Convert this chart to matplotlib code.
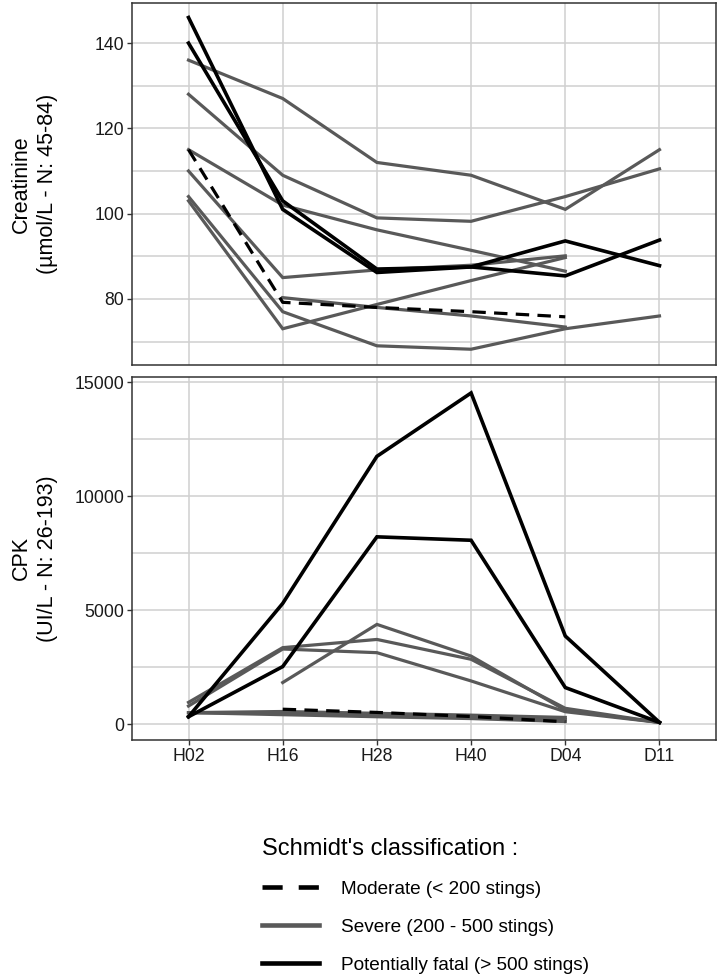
import numpy as np
import matplotlib
matplotlib.use("Agg")
import matplotlib.pyplot as plt
from matplotlib.lines import Line2D

plt.rcParams['font.family'] = ['Liberation Sans', 'DejaVu Sans']

nan = np.nan

# sampling times
times = ["H02", "H16", "H28", "H40", "D04", "D11"]

# Creatinine (umol/L), one list per patient
creat_moderate = [115, 79.2, 78, 77, 75.8, nan]
creat_severe = [
    [136, 127, 112, 109, 101, 115],
    [128, 109, 99, 98.2, 104, 110.5],
    [115, 102, 96.2, 91.4, 86.5, nan],
    [110, 85, 86.8, 87.9, 90.1, nan],
    [104, 77, 69, 68.2, 73, 76],
    [103, 73, 78.7, 84.3, 89.7, nan],
    [nan, 80.3, 78, 76, 73.4, nan],
]
creat_fatal = [
    [146, 101, 86.2, 87.5, 93.6, 87.8],
    [140, 103, 87, 87.5, 85.4, 93.8],
]

# CPK (UI/L)
cpk_moderate = [nan, 660, 520, 340, 110, nan]
cpk_severe = [
    [960, 3360, 3720, 2850, 700, 80],
    [800, 3300, 3140, 1900, 550, 80],
    [nan, 1830, 4380, 2990, 620, 80],
    [510, 560, 480, 400, 300, nan],
    [510, 480, 400, 320, 200, nan],
    [510, 420, 330, 250, 120, nan],
]
cpk_fatal = [
    [330, 5300, 11750, 14530, 3870, 80],
    [330, 2530, 8220, 8070, 1610, 80],
]

legend_title = "Schmidt's classification :"
legend_labels = ["Moderate (< 200 stings)", "Severe (200 - 500 stings)",
                 "Potentially fatal (> 500 stings)"]

GRAY = '#595959'
GRID = '#d0d0d0'
LW = 2.3
DASH = (4.2, 2.6)

fig = plt.figure(figsize=(7.19, 9.74), dpi=100)
ax1 = fig.add_axes([132 / 719, 1 - 365 / 974, 584 / 719, 362 / 974])
ax2 = fig.add_axes([132 / 719, 1 - 740 / 974, 584 / 719, 363 / 974])

x = np.arange(1, len(times) + 1)


def draw(ax, moderate, severe, fatal):
    for s in severe:
        ax.plot(x, s, color=GRAY, lw=LW, solid_joinstyle='miter', zorder=3)
    ax.plot(x, moderate, color='black', lw=LW, dashes=DASH, zorder=4)
    for s in fatal:
        ax.plot(x, s, color='black', lw=LW + 0.3, solid_joinstyle='miter', zorder=5)


draw(ax1, creat_moderate, creat_severe, creat_fatal)
draw(ax2, cpk_moderate, cpk_severe, cpk_fatal)

for ax in (ax1, ax2):
    ax.set_xlim(0.4, 6.6)
    ax.set_xticks(x)
    ax.grid(True, which='both', color=GRID, lw=1.1, zorder=0)
    ax.set_axisbelow(True)
    for sp in ax.spines.values():
        sp.set_color('#333333')
        sp.set_linewidth(1.1)
    ax.tick_params(which='major', length=3.5, width=1.0, color='#333333',
                   labelsize=12.7, labelcolor='#1a1a1a', pad=2)
    ax.tick_params(which='minor', length=0)

ax1.set_ylim(64.5, 149.4)
ax1.set_yticks([80, 100, 120, 140])
ax1.set_yticks([70, 90, 110, 130], minor=True)
ax1.tick_params(axis='x', which='both', length=0, labelbottom=False)

ax2.set_ylim(-690, 15230)
ax2.set_yticks([0, 5000, 10000, 15000])
ax2.set_yticks([2500, 7500, 12500], minor=True)
ax2.set_xticklabels(times)

ax1.set_ylabel("Creatinine\n(µmol/L - N: 45-84)", fontsize=15.5, linespacing=1.3)
ax2.set_ylabel("CPK\n(UI/L - N: 26-193)", fontsize=15.5, linespacing=1.3)
for ax in (ax1, ax2):
    ax.yaxis.set_label_coords(-0.127, 0.5)

handles = [
    Line2D([], [], color='black', lw=3.3, dashes=(4.4, 3.5)),
    Line2D([], [], color=GRAY, lw=3.3),
    Line2D([], [], color='black', lw=3.3),
]
fig.legend(handles, legend_labels, title=legend_title, loc='upper left',
           bbox_to_anchor=(262 / 719, 1 - 838 / 974), frameon=False,
           fontsize=13.7, title_fontsize=17, alignment='left',
           handlelength=3.0, handletextpad=1.15, labelspacing=1.08,
           borderpad=0, borderaxespad=0)

fig.savefig("out.png", dpi=100, facecolor='white')
